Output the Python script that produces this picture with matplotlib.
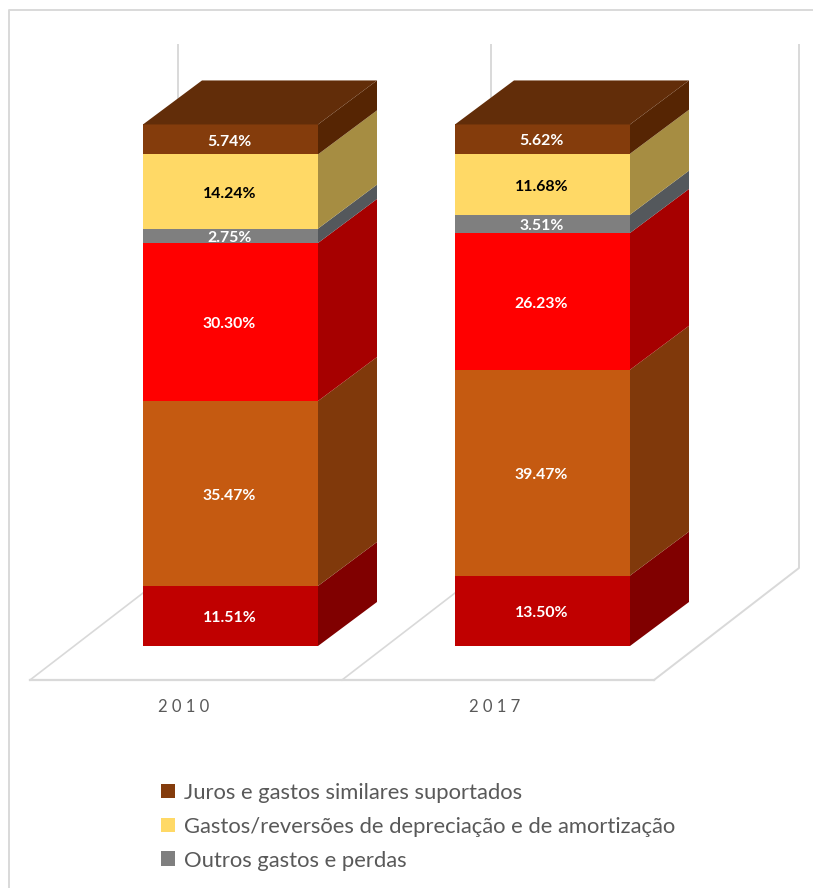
"""Stacked percentage columns with oblique 3D faces, 2010 vs 2017."""

import matplotlib

matplotlib.use("Agg")
import matplotlib.pyplot as plt
from matplotlib.patches import Patch, Polygon

WIDTH, HEIGHT = 813, 888

YEARS = ["2010", "2017"]
LEGEND_LABELS = [
    "Juros e gastos similares suportados",
    "Gastos/reversões de depreciação e de amortização",
    "Outros gastos e perdas",
]

# bottom to top
VALUES_2010 = [11.51, 35.47, 30.30, 2.75, 14.24, 5.74]
VALUES_2017 = [13.50, 39.47, 26.23, 3.51, 11.68, 5.62]

FRONT = ["#C00000", "#C55A11", "#FF0000", "#7F7F7F", "#FFD966", "#843C0C"]
SIDE = ["#800000", "#80390B", "#A60000", "#54585C", "#A68D42", "#562503"]
TOP_FACE = "#622D09"
LABEL_COLORS = ["white", "white", "white", "white", "black", "white"]

GRID = "#d9d9d9"
TEXT = "#595959"

# projection: x is in pixels, y in percent
PCT_PX = 5.215
BASE_PX = 646
DEPTH_X = 59
DEPTH_Y = 44 / PCT_PX
BAR_W = 175
BAR_LEFT = [143, 455]
FLOOR_Y = (BASE_PX - 680) / PCT_PX
WALL_TOP = (BASE_PX - 45) / PCT_PX

plt.rcParams["font.family"] = ["Lato", "DejaVu Sans"]


def draw_column(ax, left, values):
    right = left + BAR_W
    bottom = 0.0
    for i, v in enumerate(values):
        top = bottom + v
        ax.add_patch(Polygon([(left, bottom), (right, bottom), (right, top), (left, top)],
                             facecolor=FRONT[i], edgecolor="none", zorder=3))
        ax.add_patch(Polygon([(right, bottom), (right + DEPTH_X, bottom + DEPTH_Y),
                              (right + DEPTH_X, top + DEPTH_Y), (right, top)],
                             facecolor=SIDE[i], edgecolor="none", zorder=3))
        ax.text(left + BAR_W / 2 - 1, (bottom + top) / 2 - 0.45, f"{v:.2f}%", ha="center",
                va="center", color=LABEL_COLORS[i], fontsize=11.4, fontweight="bold",
                zorder=4)
        bottom = top
    ax.add_patch(Polygon([(left, bottom), (left + DEPTH_X, bottom + DEPTH_Y),
                          (right + DEPTH_X, bottom + DEPTH_Y), (right, bottom)],
                         facecolor=TOP_FACE, edgecolor="none", zorder=3))


fig = plt.figure(figsize=(WIDTH / 100, HEIGHT / 100), dpi=100)
ax = fig.add_axes([0, 0, 1, 1])
ax.set_xlim(0, WIDTH)
ax.set_ylim((BASE_PX - HEIGHT) / PCT_PX, BASE_PX / PCT_PX)
ax.axis("off")

# chart frame runs off the right and bottom edges
frame_top = (BASE_PX - 10.5) / PCT_PX
frame_bottom = (BASE_PX - HEIGHT) / PCT_PX
ax.plot([WIDTH, 9, 9], [frame_top, frame_top, frame_bottom], color=GRID, lw=1.4, zorder=1)

# floor and back wall
floor_x = [30, 342, 654]
wall_x = [178, 491, 799]
ax.plot([floor_x[0], floor_x[-1]], [FLOOR_Y, FLOOR_Y], color=GRID, lw=1.6, zorder=1)
for fx, wx in zip(floor_x[:2], wall_x[:2]):
    ax.plot([fx, fx + 113], [FLOOR_Y, FLOOR_Y + 87 / PCT_PX], color=GRID, lw=1.2, zorder=1)
    ax.plot([wx, wx], [WALL_TOP, 100.0], color=GRID, lw=1.4, zorder=1)
ax.plot([floor_x[2], wall_x[2], wall_x[2]],
        [FLOOR_Y, FLOOR_Y + 112 / PCT_PX, WALL_TOP], color=GRID, lw=1.4, zorder=1)

draw_column(ax, BAR_LEFT[0], VALUES_2010)
draw_column(ax, BAR_LEFT[1], VALUES_2017)

# spaced-out year labels
for x, year in zip([184, 495], YEARS):
    ax.text(x, (BASE_PX - 707) / PCT_PX, " ".join(year),
            ha="center", va="center", color=TEXT, fontsize=12)

handles = [Patch(facecolor=FRONT[i], edgecolor="none") for i in (5, 4, 3)]
ax.legend(handles, LEGEND_LABELS, loc="upper left",
          bbox_to_anchor=(152 / WIDTH, 1 - 774 / HEIGHT), frameon=False,
          fontsize=15.85, labelcolor=TEXT, handlelength=0.66, handleheight=0.66,
          handletextpad=0.4, labelspacing=0.63, borderaxespad=0, borderpad=0.4)

fig.savefig("out.png", dpi=100)
